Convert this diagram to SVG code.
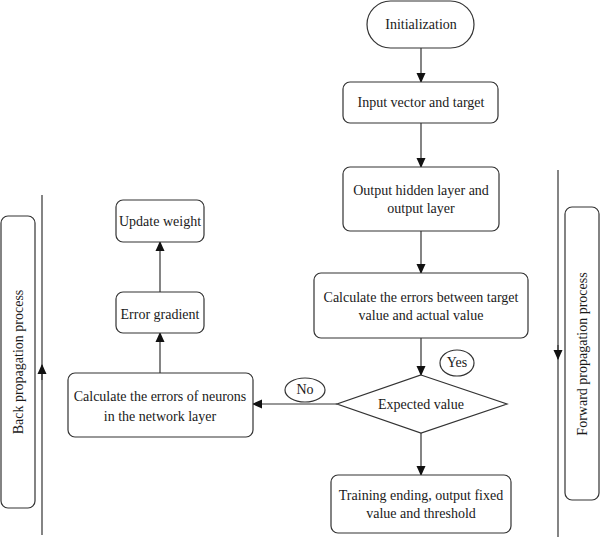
<svg xmlns="http://www.w3.org/2000/svg" width="600" height="543" viewBox="0 0 600 543">
<defs>
<style>
.box{fill:#fff;stroke:#333;stroke-width:1.2}
.ln{stroke:#333;stroke-width:1.2;fill:none}
text{font-family:'Liberation Serif','Times New Roman','DejaVu Serif',serif;font-size:14px;fill:#1a1a1a;text-anchor:middle;dominant-baseline:central}
</style>
<marker id="ah" markerWidth="10" markerHeight="10" refX="9" refY="5" orient="auto" markerUnits="userSpaceOnUse">
<path d="M0,0.5 L10,5 L0,9.5 Z" fill="#111"/>
</marker>
</defs>
<rect width="600" height="543" fill="#fff"/>
<g id="connectors">
<line class="ln" x1="421" y1="48" x2="421" y2="82" marker-end="url(#ah)"/>
<line class="ln" x1="421" y1="123" x2="421" y2="167" marker-end="url(#ah)"/>
<line class="ln" x1="421" y1="231" x2="421" y2="273" marker-end="url(#ah)"/>
<line class="ln" x1="421" y1="338" x2="421" y2="375" marker-end="url(#ah)"/>
<line class="ln" x1="421" y1="433" x2="421" y2="475" marker-end="url(#ah)"/>
<line class="ln" x1="337" y1="404" x2="253" y2="404" marker-end="url(#ah)"/>
<line class="ln" x1="160" y1="373" x2="160" y2="333" marker-end="url(#ah)"/>
<line class="ln" x1="160" y1="292" x2="160" y2="242" marker-end="url(#ah)"/>
<line class="ln" x1="42" y1="195" x2="42" y2="535"/>
<line class="ln" x1="42" y1="380" x2="42" y2="365" marker-end="url(#ah)"/>
<line class="ln" x1="558" y1="170" x2="558" y2="537"/>
<line class="ln" x1="558" y1="345" x2="558" y2="359" marker-end="url(#ah)"/>
</g>
<g font-family="Liberation Serif, serif">
<g id="init"><rect class="box" x="367" y="1" width="107" height="47" rx="23.5"/><text x="421" y="24">Initialization</text></g>
<g id="input"><rect class="box" x="343" y="82" width="155" height="41" rx="7"/><text x="421" y="102">Input vector and target</text></g>
<g id="hidden"><rect class="box" x="343" y="167" width="156" height="64" rx="7"/><text x="421" y="190">Output hidden layer and</text><text x="421" y="208">output layer</text></g>
<g id="calcerr"><rect class="box" x="314" y="273" width="214" height="65" rx="7"/><text x="421" y="297">Calculate the errors between target</text><text x="421" y="315">value and actual value</text></g>
<g id="expected"><polygon class="box" points="421,375 507,404 421,433 337,404"/><text x="421" y="404">Expected value</text></g>
<g id="yes"><ellipse class="box" cx="457" cy="363" rx="17" ry="13"/><text x="457" y="362">Yes</text></g>
<g id="no"><ellipse class="box" cx="305" cy="390" rx="20" ry="12"/><text x="305" y="389">No</text></g>
<g id="training"><rect class="box" x="331" y="475" width="180" height="58" rx="7"/><text x="421" y="495">Training ending, output fixed</text><text x="421" y="513">value and threshold</text></g>
<g id="neurons"><rect class="box" x="68" y="373" width="185" height="64" rx="7"/><text x="160" y="396">Calculate the errors of neurons</text><text x="160" y="416">in the network layer</text></g>
<g id="gradient"><rect class="box" x="116" y="292" width="88" height="41" rx="7"/><text x="160" y="314">Error gradient</text></g>
<g id="update"><rect class="box" x="116" y="200" width="88" height="42" rx="7"/><text x="160" y="221">Update weight</text></g>
<g id="back"><rect class="box" x="1" y="216" width="34" height="292" rx="7"/><text transform="translate(18,362) rotate(-90)">Back propagation process</text></g>
<g id="forward"><rect class="box" x="565" y="207" width="34" height="293" rx="7"/><text transform="translate(582,354) rotate(-90)">Forward propagation process</text></g>
</g>
</svg>
